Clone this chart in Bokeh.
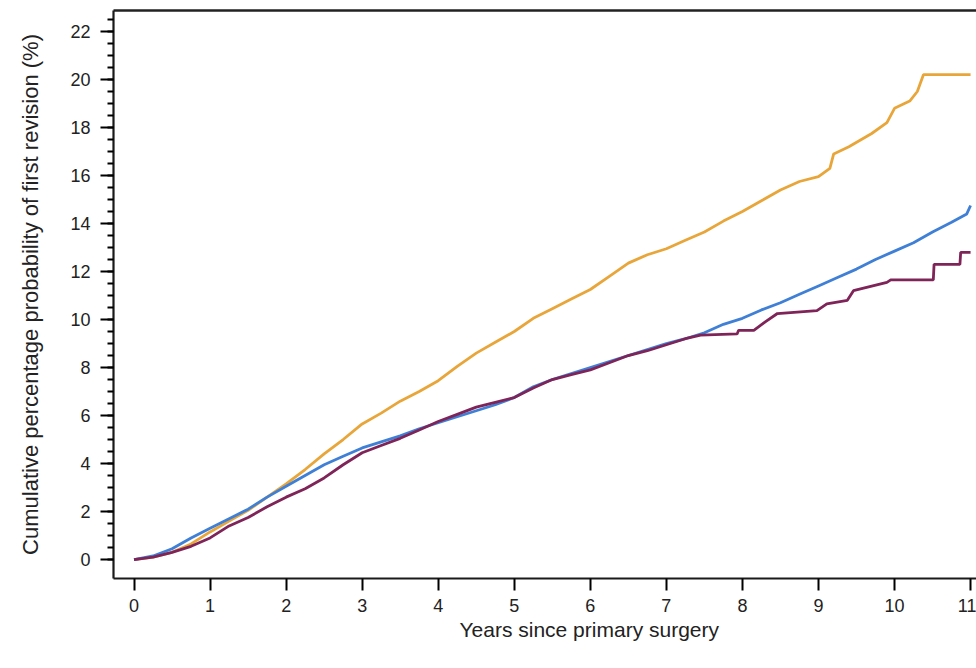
from bokeh.plotting import figure
from bokeh.models import Range1d, FixedTicker, LinearAxis, Title
from bokeh.embed import file_html
from bokeh.resources import INLINE

# ---- data ----
orange_t = [0, 0.25, 0.5, 0.75, 1.0, 1.25, 1.5, 1.75, 2.0, 2.25, 2.5, 2.75, 3.0, 3.25, 3.5, 3.75,
            4.0, 4.25, 4.5, 4.75, 5.0, 5.25, 5.5, 5.75, 6.0, 6.25, 6.5, 6.75, 7.0, 7.25, 7.5, 7.75,
            8.0, 8.25, 8.5, 8.75, 9.0, 9.15, 9.2, 9.4, 9.7, 9.9, 10.0, 10.2, 10.3, 10.38, 11.0]
orange_v = [0, 0.1, 0.3, 0.65, 1.15, 1.6, 2.05, 2.6, 3.15, 3.75, 4.4, 5.0, 5.65, 6.1, 6.6, 7.0,
            7.45, 8.05, 8.6, 9.05, 9.5, 10.05, 10.45, 10.85, 11.25, 11.8, 12.35, 12.7, 12.95, 13.3, 13.65, 14.1,
            14.5, 14.95, 15.4, 15.75, 15.95, 16.3, 16.9, 17.2, 17.75, 18.2, 18.8, 19.1, 19.5, 20.2, 20.2]

blue_t = [0, 0.25, 0.5, 0.75, 1.0, 1.25, 1.5, 1.75, 2.0, 2.25, 2.5, 2.75, 3.0, 3.25, 3.5, 3.75,
          4.0, 4.25, 4.5, 4.75, 5.0, 5.25, 5.5, 5.75, 6.0, 6.25, 6.5, 6.75, 7.0, 7.25, 7.5, 7.75,
          8.0, 8.25, 8.5, 8.75, 9.0, 9.25, 9.5, 9.75, 10.0, 10.25, 10.5, 10.75, 10.95, 11.0]
blue_v = [0, 0.15, 0.45, 0.9, 1.3, 1.7, 2.1, 2.6, 3.05, 3.5, 3.95, 4.3, 4.65, 4.9, 5.15, 5.45,
          5.7, 5.95, 6.2, 6.45, 6.75, 7.2, 7.5, 7.75, 8.0, 8.25, 8.5, 8.75, 9.0, 9.2, 9.45, 9.8,
          10.05, 10.4, 10.7, 11.05, 11.4, 11.75, 12.1, 12.5, 12.85, 13.2, 13.65, 14.05, 14.4, 14.75]

purple_t = [0, 0.25, 0.5, 0.75, 1.0, 1.25, 1.5, 1.75, 2.0, 2.25, 2.5, 2.75, 3.0, 3.25, 3.5, 3.75,
            4.0, 4.25, 4.5, 4.75, 5.0, 5.25, 5.5, 5.75, 6.0, 6.25, 6.5, 6.75, 7.0, 7.25, 7.45, 7.93,
            7.95, 8.15, 8.3, 8.46, 8.98, 9.11, 9.38, 9.46, 9.9, 9.95, 10.51, 10.52, 10.86, 10.87, 11.0]
purple_v = [0, 0.1, 0.3, 0.55, 0.9, 1.4, 1.75, 2.2, 2.6, 2.95, 3.4, 3.95, 4.45, 4.75, 5.05, 5.4,
            5.75, 6.05, 6.35, 6.55, 6.75, 7.15, 7.5, 7.7, 7.9, 8.2, 8.5, 8.7, 8.95, 9.2, 9.35, 9.4,
            9.55, 9.55, 9.9, 10.25, 10.37, 10.65, 10.8, 11.2, 11.55, 11.65, 11.65, 12.3, 12.3, 12.8, 12.8]

x_ticks = list(range(0, 12))
y_ticks = list(range(0, 23, 2))
y_minor = [i * 0.5 for i in range(0, 46)]

FONT = "Liberation Sans"

p = figure(width=976, height=668, output_backend="svg", toolbar_location=None,
           x_range=Range1d(-0.27, 11.078), y_range=Range1d(-0.79, 22.875),
           min_border_left=113, min_border_right=0, min_border_top=10, min_border_bottom=90,
           background_fill_color="white", border_fill_color="white")
p.outline_line_color = None
p.xgrid.visible = False
p.ygrid.visible = False

p.line(orange_t, orange_v, line_color="#E8A63A", line_width=2.8)
p.line(blue_t, blue_v, line_color="#3F80D6", line_width=2.8)
p.line(purple_t, purple_v, line_color="#7E2458", line_width=2.8)

xa = p.xaxis[0]
xa.ticker = FixedTicker(ticks=x_ticks)
xa.axis_line_width = 2.2
xa.axis_line_color = "#1a1a1a"
xa.major_tick_line_width = 2
xa.major_tick_out = 12
xa.major_tick_in = 0
xa.minor_tick_out = 0
xa.major_label_standoff = 8
xa.major_label_text_font = FONT
xa.major_label_text_font_size = "18px"
xa.major_label_text_color = "#222222"

ya = p.yaxis[0]
ya.ticker = FixedTicker(ticks=y_ticks, minor_ticks=y_minor)
ya.axis_line_width = 2.2
ya.axis_line_color = "#1a1a1a"
ya.major_tick_line_width = 2
ya.major_tick_out = 13
ya.major_tick_in = 0
ya.minor_tick_line_width = 2
ya.minor_tick_out = 6
ya.minor_tick_in = 0
ya.major_label_standoff = 10
ya.major_label_text_font = FONT
ya.major_label_text_font_size = "18px"
ya.major_label_text_color = "#222222"
ya.axis_label = "Cumulative percentage probability of first revision (%)"
ya.axis_label_text_font = FONT
ya.axis_label_text_font_size = "22px"
ya.axis_label_text_font_style = "normal"
ya.axis_label_text_color = "#222222"
ya.axis_label_standoff = 24

top = LinearAxis(ticker=FixedTicker(ticks=[]), axis_line_width=2.5, axis_line_color="#222222",
                 major_tick_out=0, major_tick_in=0, minor_tick_out=0, minor_tick_in=0,
                 major_label_text_font_size="0px")
p.add_layout(top, "above")

p.add_layout(Title(text="Years since primary surgery", align="left", offset=346,
                   text_font=FONT, text_font_size="21px", text_font_style="normal",
                   text_color="#222222", standoff=2), "below")

open("out.html", "w").write(file_html(p, INLINE))
